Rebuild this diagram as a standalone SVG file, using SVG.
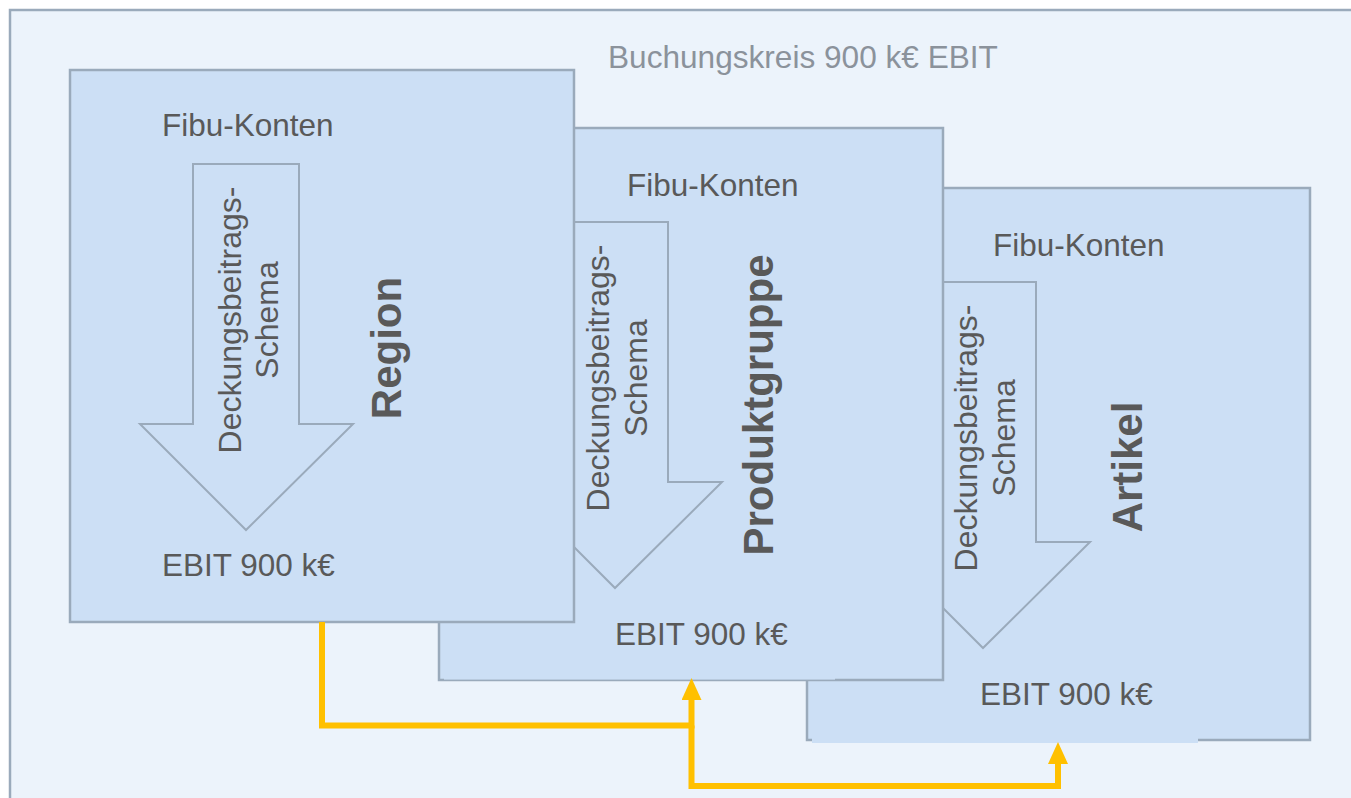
<svg xmlns="http://www.w3.org/2000/svg" width="1351" height="798" viewBox="0 0 1351 798">
  <style>
    .frame{fill:#ECF3FB;stroke:#9AAABB;stroke-width:2.5}
    .box{fill:#CCDFF5;stroke:#9AAABB;stroke-width:2.5}
    .patch{fill:#CCDFF5;stroke:none}
    .arrow{fill:#CCDFF5;stroke:#9AAABB;stroke-width:2}
    .t{font-family:"Liberation Sans",Arial,sans-serif;font-size:31.5px;fill:#595959}
    .tv{font-family:"Liberation Sans",Arial,sans-serif;font-size:32px;fill:#595959;text-anchor:middle}
    .tb{font-family:"Liberation Sans",Arial,sans-serif;font-size:42px;font-weight:bold;fill:#595959;text-anchor:middle}
    .title{font-family:"Liberation Sans",Arial,sans-serif;font-size:31.6px;fill:#8B929B}
    .conn{fill:none;stroke:#FFC000;stroke-width:6}
  </style>
  <defs>
    <marker id="ah" viewBox="0 0 22 20" refX="0" refY="10" markerWidth="22" markerHeight="20" markerUnits="userSpaceOnUse" orient="auto">
      <path d="M0,0 L22,10 L0,20 z" fill="#FFC000"/>
    </marker>
  </defs>

  <g id="frame">
    <rect class="frame" x="10" y="10" width="1370" height="820"/>
    <text class="title" x="608" y="68">Buchungskreis 900 k€ EBIT</text>
  </g>

  <g id="artikel">
    <rect class="box" x="807" y="188" width="503" height="552"/>
    <polygon class="arrow" points="930,282 1036,282 1036,542 1090,542 983,648 877,542 930,542"/>
    <rect class="patch" x="812" y="730" width="386" height="13"/>
    <text class="t" x="993" y="256">Fibu-Konten</text>
    <text class="tv" transform="translate(977,438) rotate(-90)">Deckungsbeitrags-</text>
    <text class="tv" transform="translate(1015,438) rotate(-90)">Schema</text>
    <text class="tb" transform="translate(1142,467) rotate(-90)">Artikel</text>
    <text class="t" x="980" y="705">EBIT 900 k€</text>
  </g>

  <g id="produktgruppe">
    <rect class="box" x="439" y="128" width="504" height="552"/>
    <polygon class="arrow" points="562,222 668,222 668,482 722,482 615,588 509,482 562,482"/>
    <rect class="patch" x="444" y="670" width="391" height="9.6"/>
    <text class="t" x="627" y="196">Fibu-Konten</text>
    <text class="tv" transform="translate(609,378) rotate(-90)">Deckungsbeitrags-</text>
    <text class="tv" transform="translate(647,378) rotate(-90)">Schema</text>
    <text class="tb" transform="translate(773,405) rotate(-90)">Produktgruppe</text>
    <text class="t" x="615" y="645">EBIT 900 k€</text>
  </g>

  <g id="region">
    <rect class="box" x="70" y="70" width="504" height="552"/>
    <polygon class="arrow" points="193,164 299,164 299,424 353,424 246,530 140,424 193,424"/>
    <text class="t" x="162" y="136">Fibu-Konten</text>
    <text class="tv" transform="translate(241,320) rotate(-90)">Deckungsbeitrags-</text>
    <text class="tv" transform="translate(278,320) rotate(-90)">Schema</text>
    <text class="tb" transform="translate(401,348) rotate(-90)">Region</text>
    <text class="t" x="162" y="576">EBIT 900 k€</text>
  </g>

  <g id="connectors">
    <path class="conn" d="M322,622 V725.5 H691.5 V700" marker-end="url(#ah)"/>
    <path class="conn" d="M691.5,725.5 V786 H1058 V764" marker-end="url(#ah)"/>
  </g>
</svg>
